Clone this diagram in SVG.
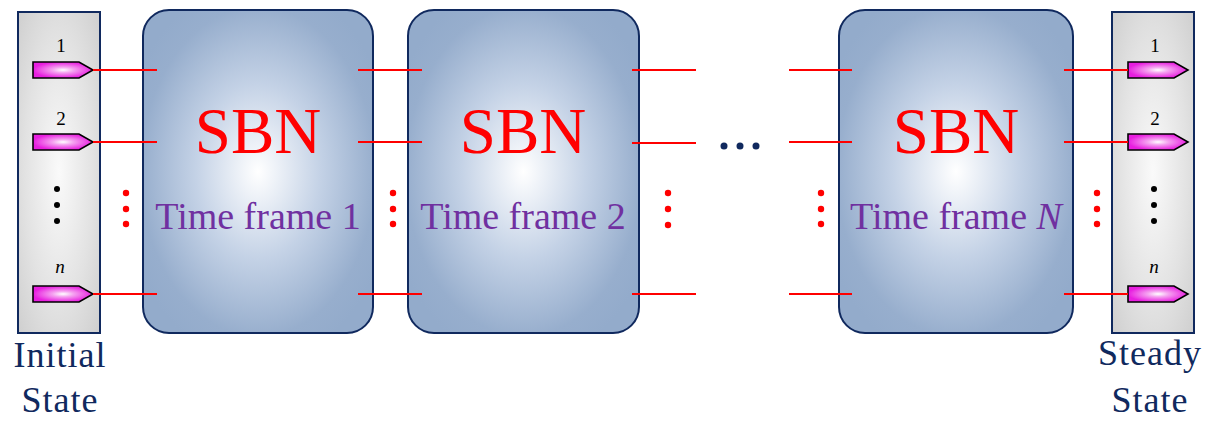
<svg xmlns="http://www.w3.org/2000/svg" width="1207" height="423" viewBox="0 0 1207 423">
<defs>
<radialGradient id="gBox" cx="50%" cy="50%" r="60%" fx="50%" fy="50%">
<stop offset="0" stop-color="#ffffff"/>
<stop offset="0.45" stop-color="#c4d2e6"/>
<stop offset="0.85" stop-color="#97aecd"/>
<stop offset="1" stop-color="#93abcb"/>
</radialGradient>
<radialGradient id="gPanel" cx="50%" cy="50%" r="70%">
<stop offset="0" stop-color="#fafafa"/>
<stop offset="0.6" stop-color="#e2e2e2"/>
<stop offset="1" stop-color="#cfcfcf"/>
</radialGradient>
<radialGradient id="gArrow" cx="50%" cy="50%" r="50%">
<stop offset="0" stop-color="#ffffff"/>
<stop offset="0.35" stop-color="#f5a2f0"/>
<stop offset="1" stop-color="#e81ee0"/>
</radialGradient>
<path id="arr" d="M0,-8 H46 L60,0 L46,8 H0 Z"/>
</defs>
<style>
.box{fill:url(#gBox);stroke:#10295e;stroke-width:2}
.panel{fill:url(#gPanel);stroke:#10295e;stroke-width:2}
.arrow{fill:url(#gArrow);stroke:#000;stroke-width:1.6;stroke-linejoin:miter}
.wire{stroke:#ff0000;stroke-width:2;fill:none}
text{font-family:'Liberation Serif','Times New Roman','DejaVu Serif',serif}
.sbn{font-size:65px;fill:#ff0000;text-anchor:middle}
.tf{font-size:38px;fill:#7030a0;text-anchor:middle}
.num{font-size:19px;fill:#000;text-anchor:middle}
.st{font-size:36px;fill:#10295e;text-anchor:middle;letter-spacing:1px}
.rd{fill:#ff0000}
.bd{fill:#000}
.nd{fill:#10295e}
</style>

<g id="initial-state">
<rect class="panel" x="18" y="12" width="82" height="321"/>
<text class="num" x="61" y="52">1</text>
<text class="num" x="61" y="125">2</text>
<text class="num" x="60" y="273" font-style="italic">n</text>
<use href="#arr" class="arrow" x="33" y="70"/>
<use href="#arr" class="arrow" x="33" y="142"/>
<use href="#arr" class="arrow" x="33" y="294"/>
<circle class="bd" cx="57" cy="189" r="3"/>
<circle class="bd" cx="57" cy="205" r="3"/>
<circle class="bd" cx="57" cy="221" r="3"/>
<text class="st" x="60" y="367">Initial</text>
<text class="st" x="60" y="412">State</text>
</g>

<g id="frame1">
<rect class="box" x="143" y="10" width="230" height="323" rx="26"/>
<text class="sbn" x="258" y="153">SBN</text>
<text class="tf" x="258" y="229">Time frame 1</text>
</g>

<g id="frame2">
<rect class="box" x="408" y="10" width="231" height="323" rx="26"/>
<text class="sbn" x="523" y="153">SBN</text>
<text class="tf" x="523" y="229">Time frame 2</text>
</g>

<g id="frameN">
<rect class="box" x="839" y="10" width="234" height="323" rx="26"/>
<text class="sbn" x="956" y="153">SBN</text>
<text class="tf" x="956" y="229">Time frame <tspan font-style="italic">N</tspan></text>
</g>

<g id="steady-state">
<rect class="panel" x="1112" y="12" width="82" height="321"/>
<text class="num" x="1155" y="52">1</text>
<text class="num" x="1155" y="125">2</text>
<text class="num" x="1154" y="273" font-style="italic">n</text>
<use href="#arr" class="arrow" x="1128" y="70"/>
<use href="#arr" class="arrow" x="1128" y="142"/>
<use href="#arr" class="arrow" x="1128" y="294"/>
<circle class="bd" cx="1154" cy="189" r="3"/>
<circle class="bd" cx="1154" cy="205" r="3"/>
<circle class="bd" cx="1154" cy="221" r="3"/>
<text class="st" x="1150" y="365">Steady</text>
<text class="st" x="1150" y="412">State</text>
</g>

<g id="connectors">
<path class="wire" d="M93,70 H157 M93,142 H157 M93,294 H157"/>
<path class="wire" d="M358,70 H422 M358,142 H422 M358,294 H422"/>
<path class="wire" d="M632,70 H696 M632,143 H696 M632,294 H696"/>
<path class="wire" d="M789,70 H852 M789,142 H852 M789,294 H852"/>
<path class="wire" d="M1064,70 H1128 M1064,142 H1128 M1064,294 H1128"/>
<circle class="rd" cx="126" cy="193" r="3.2"/>
<circle class="rd" cx="126" cy="209" r="3.2"/>
<circle class="rd" cx="126" cy="224" r="3.2"/>
<circle class="rd" cx="393" cy="193" r="3.2"/>
<circle class="rd" cx="393" cy="209" r="3.2"/>
<circle class="rd" cx="393" cy="224" r="3.2"/>
<circle class="rd" cx="668" cy="193" r="3.2"/>
<circle class="rd" cx="668" cy="209" r="3.2"/>
<circle class="rd" cx="668" cy="225" r="3.2"/>
<circle class="rd" cx="821" cy="193" r="3.2"/>
<circle class="rd" cx="821" cy="209" r="3.2"/>
<circle class="rd" cx="821" cy="224" r="3.2"/>
<circle class="rd" cx="1097" cy="193" r="3.2"/>
<circle class="rd" cx="1097" cy="209" r="3.2"/>
<circle class="rd" cx="1097" cy="224" r="3.2"/>
<circle class="nd" cx="724" cy="146" r="3.5"/>
<circle class="nd" cx="740" cy="146" r="3.5"/>
<circle class="nd" cx="756" cy="146" r="3.5"/>
</g>
</svg>
